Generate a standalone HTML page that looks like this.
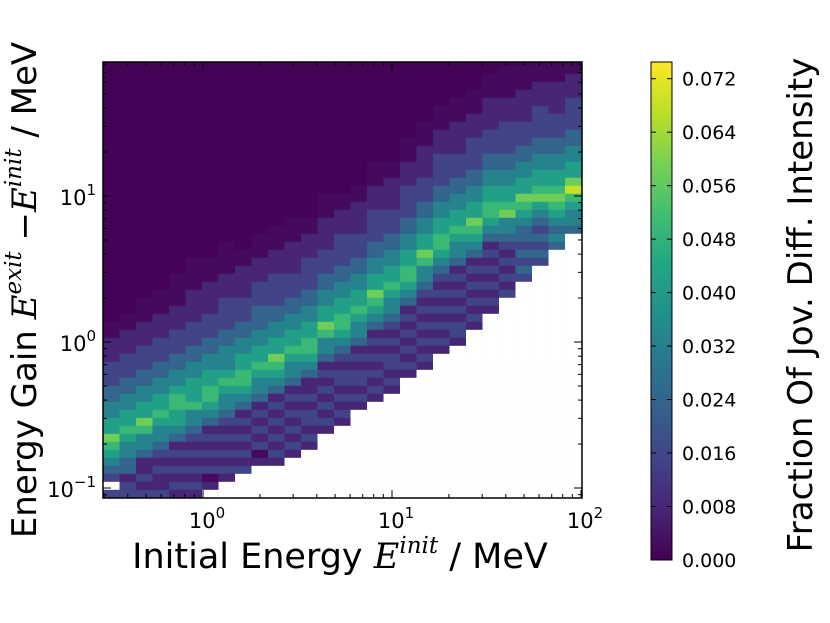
<!DOCTYPE html>
<html><head><meta charset="utf-8"><style>
html,body{margin:0;padding:0;background:#fff;width:830px;height:623px;overflow:hidden}
svg{display:block}
text{font-family:"DejaVu Sans","Liberation Sans",sans-serif;fill:#000}
.m{font-family:"DejaVu Serif","Liberation Serif",serif;font-style:italic}
</style></head><body>
<svg id="chart" width="830" height="623" viewBox="0 0 830 623" xmlns="http://www.w3.org/2000/svg">
<defs>
<linearGradient id="vir" x1="0" y1="1" x2="0" y2="0">
<stop offset="0" stop-color="#440154"/><stop offset="0.1" stop-color="#482475"/><stop offset="0.2" stop-color="#414487"/><stop offset="0.3" stop-color="#355f8d"/><stop offset="0.4" stop-color="#2a788e"/><stop offset="0.5" stop-color="#21918c"/><stop offset="0.6" stop-color="#22a884"/><stop offset="0.7" stop-color="#44bf70"/><stop offset="0.8" stop-color="#7ad151"/><stop offset="0.9" stop-color="#bddf26"/><stop offset="1" stop-color="#fde725"/>
</linearGradient>
<clipPath id="pc"><rect x="103" y="62" width="479" height="436"/></clipPath>
</defs>
<rect x="103" y="62" width="479" height="436" fill="#440154"/>
<g id="cells" clip-path="url(#pc)"></g>
<g id="axes"></g>
<rect x="103" y="62" width="479" height="436" fill="none" stroke="#000" stroke-width="1.5"/>
<rect x="651" y="62" width="21" height="498" fill="url(#vir)" stroke="#000" stroke-width="1"/>
<g id="cbar"></g>
<text x="340" y="568" font-size="35" text-anchor="middle">Initial Energy <tspan class="m">E</tspan><tspan class="m" font-size="23" dy="-15">init</tspan><tspan dy="15">  / MeV</tspan></text>
<text transform="translate(36,290) rotate(-90)" font-size="34" text-anchor="middle">Energy Gain <tspan class="m">E</tspan><tspan class="m" font-size="23" dy="-15">exit</tspan><tspan dy="15"> −</tspan><tspan class="m">E</tspan><tspan class="m" font-size="23" dy="-15">init</tspan><tspan dy="15">  / MeV</tspan></text>
<text transform="translate(812,305) rotate(-90)" font-size="34" text-anchor="middle">Fraction Of Jov. Diff. Intensity</text>
</svg>
<script>
// Heatmap data: one string per x-bin (column), chars bottom->top; '.' = no data, digit = index into levelValues
const colData = [
"33.34567866554433322211",
"233244556766554433322211",
"23232245578665544333222111",
".32232345567665544333222111",
".2323232456677655443332221111",
".232323234557666554433322221111",
"..21323232456776655443332222111",
"...232323234556765554433332221111",
"....3232323245677665544333222211",
".....21323232455676655444333222111",
".....232323232456786655443333222111",
"......232323232455676655443332222111",
".......23233232245677665544333322211",
".........232323232455786655443332222111",
"..........23232332345677665544333322211",
"............2323323245567665544333222211",
".............232323232456786655443333222111",
"..............23233232345567665544333222211",
"................232323232456776655443333222111",
".................2323232323455786655443332222111",
"...................2323232323456776655443333222111",
"....................2332323232455676655443332222111",
"......................232323232456786655443333222111",
"........................232323232456776655443332222111",
"..........................32323234558766554433332221111",
"............................343434456786655443332222111",
"..............................34343456876655443333222111",
"................................454567876655443332222111",
"..................................4556798665544333322211111"
];
const levelValues = [0.0005,0.002,0.008,0.015,0.024,0.033,0.042,0.050,0.058,0.068];
const xBinStartLog = -0.529, xBinWidthLog = 0.0873;
const yBinStartLog = -1.12, yBinHeightLog = 0.0548;
const xTickExp = [0, 1, 2];
const yTickExp = [-1, 0, 1];
const cbarTicks = [0.000,0.008,0.016,0.024,0.032,0.040,0.048,0.056,0.064,0.072];
const cbarMax = 0.0745;

const NS = "http://www.w3.org/2000/svg";
const PL=103, PR=582, PT=62, PB=498;
const X0=203, XD=189, Y1=196, YD=146;
function xs(lg){ return X0 + lg*XD; }
function ys(lg){ return Y1 - (lg-1)*YD; }
const vstops=["#440154","#482475","#414487","#355f8d","#2a788e","#21918c","#22a884","#44bf70","#7ad151","#bddf26","#fde725"];
function hex(h){return [1,3,5].map(i=>parseInt(h.substr(i,2),16));}
function viridis(t){
  t=Math.max(0,Math.min(1,t)); const f=t*10, i=Math.min(9,Math.floor(f)), u=f-i;
  const a=hex(vstops[i]), b=hex(vstops[i+1]);
  return "rgb("+a.map((v,k)=>Math.round(v+(b[k]-v)*u)).join(",")+")";
}
const cells=document.getElementById("cells");
colData.forEach((s,c)=>{
  const x0=xs(xBinStartLog+c*xBinWidthLog), x1=xs(xBinStartLog+(c+1)*xBinWidthLog);
  for(let r=0;r<60;r++){
    const ch = r<s.length ? s[r] : "0";
    const ya=ys(yBinStartLog+(r+1)*yBinHeightLog), yb=ys(yBinStartLog+r*yBinHeightLog);
    const rc=document.createElementNS(NS,"rect");
    rc.setAttribute("x",x0); rc.setAttribute("y",ya);
    rc.setAttribute("width",x1-x0+0.3); rc.setAttribute("height",yb-ya+0.3);
    rc.setAttribute("fill", ch==="." ? "#ffffff" : viridis(levelValues[parseInt(ch)]/cbarMax));
    
    
    cells.appendChild(rc);
  }
});
const ax=document.getElementById("axes");
function line(x1,y1,x2,y2,g,w){const l=document.createElementNS(NS,"line");l.setAttribute("x1",x1);l.setAttribute("y1",y1);l.setAttribute("x2",x2);l.setAttribute("y2",y2);l.setAttribute("stroke","#000");l.setAttribute("stroke-width",w||1);


g.appendChild(l);}
function pow10Label(g,x,y,e,anchor,name){
  const t=document.createElementNS(NS,"text");
  t.setAttribute("x",x);t.setAttribute("y",y);t.setAttribute("font-size","21");t.setAttribute("text-anchor",anchor);
  t.innerHTML='10<tspan font-size="15" dy="-10">'+(e<0?"−":"")+Math.abs(e)+'</tspan>';
  
  
  g.appendChild(t);
}
for(let d=-1; d<=2; d++){
  for(let m=1;m<10;m++){
    const lg=d+Math.log10(m), x=xs(lg);
    if(x<PL-0.5||x>PR+0.5) continue;
    const L = m===1?8:4;
    line(x,PB,x,PB-L,ax); line(x,PT,x,PT+L,ax);
  }
}
xTickExp.forEach(e=>pow10Label(ax,xs(e)+4,528,e,"middle","x-tick-label"));
for(let d=-2; d<=2; d++){
  for(let m=1;m<10;m++){
    const lg=d+Math.log10(m), y=ys(lg);
    if(y<PT-0.5||y>PB+0.5) continue;
    const L = m===1?8:4;
    line(PL,y,PL+L,y,ax); line(PR,y,PR-L,y,ax);
  }
}
yTickExp.forEach(e=>pow10Label(ax,96,ys(e)+9,e,"end","y-tick-label"));
const cb=document.getElementById("cbar");
cbarTicks.forEach(v=>{
  const y=560-(v/cbarMax)*498;
  line(672,y,667,y,cb); line(651,y,656,y,cb);
  const t=document.createElementNS(NS,"text");
  t.setAttribute("x",682);t.setAttribute("y",y+7);t.setAttribute("font-size","19");
  t.textContent=v.toFixed(3);
  
  
  cb.appendChild(t);
});
</script>
</body></html>
